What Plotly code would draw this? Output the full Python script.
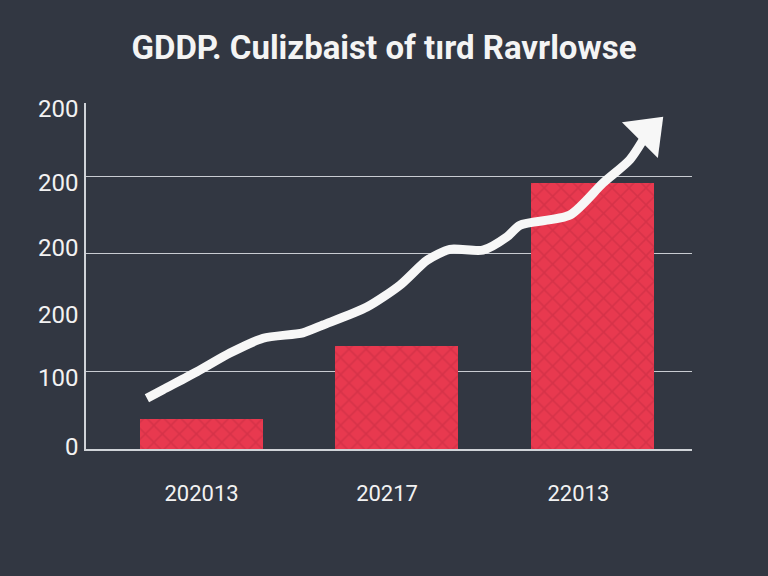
import plotly.graph_objects as go

# ---- data ----
categories = ["202013", "20217", "22013"]
bar_x = [0, 1, 2]
bar_values = [38, 132, 341]
cat_tick_pos = [0, 0.95, 1.93]

y_tick_vals = [2.5, 92, 172, 258, 342, 437]
y_tick_text = ["0", "100", "200", "200", "200", "200"]
grid_vals = [100, 251, 349]

line_x = [-0.280, -0.198, -0.024, 0.145, 0.315, 0.519, 0.622, 0.847, 1.016,
          1.155, 1.272, 1.441, 1.564, 1.631, 1.887, 2.056, 2.194, 2.285]
line_y = [65, 76, 99, 123, 142, 149, 159, 182, 210,
          242, 256, 255, 272, 287, 300, 341, 371, 406]

title = "GDDP. Culizbaist of tırd Ravrlowse"

BG = "#323742"
FONT = "Roboto"

fig = go.Figure()

fig.add_trace(go.Bar(
    x=bar_x, y=bar_values, width=0.63,
    marker=dict(color="#e8394f", line=dict(width=0),
                pattern=dict(shape="x", fgcolor="#c42c42", size=12, solidity=0.25)),
    yaxis="y", showlegend=False, hoverinfo="skip",
))

fig.add_trace(go.Scatter(
    x=line_x, y=line_y, mode="lines+markers", yaxis="y2",
    line=dict(color="#f7f7f7", width=9, shape="spline", smoothing=0.7),
    marker=dict(symbol="triangle-up", angleref="previous", angle=12,
                color="#f7f7f7", opacity=1,
                size=[0] * (len(line_x) - 1) + [44],
                line=dict(width=0)),
    showlegend=False, hoverinfo="skip",
))

yrange = [0, 443.6]
fig.update_layout(
    width=768, height=576,
    paper_bgcolor=BG, plot_bgcolor=BG,
    margin=dict(l=86, r=76, t=103, b=127),
    title=dict(text="<b>" + title + "</b>", x=0.5, xanchor="center",
               y=1 - 47 / 576, yanchor="middle",
               font=dict(family=FONT, size=33, color="#f4f4f4")),
    font=dict(family=FONT, color="#f2f2f2"),
    xaxis=dict(range=[-0.592, 2.512], tickvals=cat_tick_pos, ticktext=categories,
               showgrid=False, zeroline=False, showline=True,
               linecolor="#d0d3d8", linewidth=1.5,
               ticks="outside", ticklen=24, tickcolor=BG,
               tickfont=dict(size=22, color="#f2f2f2")),
    yaxis=dict(range=yrange, tickvals=y_tick_vals, ticktext=y_tick_text,
               showgrid=False, zeroline=False, showline=True,
               linecolor="#d0d3d8", linewidth=1.5,
               ticks="outside", ticklen=1, tickcolor=BG,
               tickfont=dict(size=24, color="#f2f2f2")),
    yaxis2=dict(range=yrange, overlaying="y", tickvals=grid_vals,
                showticklabels=False, showgrid=True, gridcolor="#c9ccd2",
                gridwidth=1.3, zeroline=False, showline=False),
    bargap=0,
)

fig.write_html("out.html")
